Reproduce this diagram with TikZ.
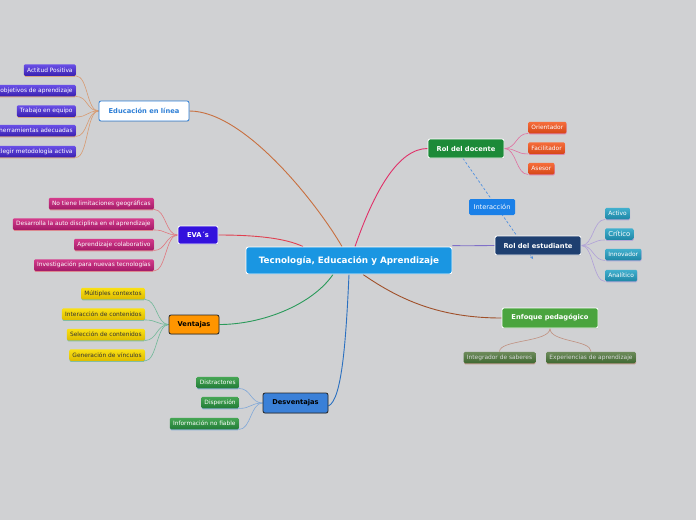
\documentclass[tikz,border=0pt]{standalone}
\usepackage{fontspec}
\setmainfont{DejaVu Sans}
\usetikzlibrary{shadows,arrows.meta}
\pgfdeclarelayer{bottom}
\pgfdeclarelayer{background}
\pgfsetlayers{bottom,background,main}
\definecolor{bg}{RGB}{208,209,211}
\definecolor{cMain}{RGB}{26,150,226}
\definecolor{cEduB}{RGB}{46,127,214}
\definecolor{cPurT}{RGB}{106,80,232}
\definecolor{cPurB}{RGB}{58,32,176}
\definecolor{cEva}{RGB}{51,17,221}
\definecolor{cMagT}{RGB}{212,60,140}
\definecolor{cMagB}{RGB}{164,26,104}
\definecolor{cVen}{RGB}{255,149,0}
\definecolor{cYelT}{RGB}{250,224,20}
\definecolor{cYelB}{RGB}{222,188,0}
\definecolor{cDes}{RGB}{58,128,216}
\definecolor{cGrnT}{RGB}{70,166,84}
\definecolor{cGrnB}{RGB}{34,124,56}
\definecolor{cDoc}{RGB}{28,138,56}
\definecolor{cOrT}{RGB}{246,110,60}
\definecolor{cOrB}{RGB}{214,70,22}
\definecolor{cInt}{RGB}{26,128,232}
\definecolor{cEst}{RGB}{30,63,112}
\definecolor{cTeT}{RGB}{66,176,206}
\definecolor{cTeB}{RGB}{30,134,166}
\definecolor{cEnf}{RGB}{74,164,62}
\definecolor{cOlT}{RGB}{110,140,92}
\definecolor{cOlB}{RGB}{62,104,48}
\definecolor{lEdu}{RGB}{200,112,64}
\definecolor{lEduS}{RGB}{216,154,112}
\definecolor{lEva}{RGB}{224,64,80}
\definecolor{lEvaS}{RGB}{224,120,128}
\definecolor{lVen}{RGB}{42,154,90}
\definecolor{lVenS}{RGB}{112,184,152}
\definecolor{lDes}{RGB}{42,112,192}
\definecolor{lDesS}{RGB}{128,168,216}
\definecolor{lDoc}{RGB}{224,48,104}
\definecolor{lDocS}{RGB}{224,112,160}
\definecolor{lEst}{RGB}{128,112,200}
\definecolor{lEstS}{RGB}{176,160,216}
\definecolor{lEnf}{RGB}{160,80,42}
\definecolor{lEnfS}{RGB}{192,144,128}
\definecolor{lDash}{RGB}{80,144,224}
\begin{document}
\begin{tikzpicture}[x=1pt,y=-1pt,
  leaf/.style={rounded corners=1.3pt, inner xsep=3.2pt, inner ysep=0pt,
    minimum height=11.5pt, font=\fontsize{5.9}{7}\selectfont, text=white,
    drop shadow={shadow xshift=0.3pt, shadow yshift=-1.1pt, fill=#1, opacity=0.8}},
  topic/.style={rounded corners=2pt, inner xsep=6pt, inner ysep=0pt,
    minimum height=19pt, font=\bfseries\fontsize{6.7}{8}\selectfont,
    line width=0.8pt,
    drop shadow={shadow xshift=0.4pt, shadow yshift=-0.8pt, opacity=0.25}},
  con/.style={line width=0.9pt},
  sub/.style={line width=0.6pt}
]
\begin{pgfonlayer}{bottom}
\fill[bg] (0,0) rectangle (696,520);
\end{pgfonlayer}
\useasboundingbox (0,0) rectangle (696,520);

% central
\node[rounded corners=2.5pt, fill=cMain, draw=white, line width=0.9pt,
  minimum width=206pt, minimum height=27pt, text=white,
  font=\bfseries\fontsize{8.8}{10}\selectfont,
  drop shadow={shadow xshift=0.4pt, shadow yshift=-0.8pt, opacity=0.25}]
  (main) at (349,260.5) {Tecnología, Educación y Aprendizaje};

% Educación en línea
\node[topic, fill=white, draw=cEduB, text=cEduB, minimum width=90pt, minimum height=20pt] (edu) at (144,111) {Educación en línea};
\node[leaf=lEduS, top color=cPurT, bottom color=cPurB, anchor=east] (e1) at (76,70) {Actitud Positiva};
\node[leaf=lEduS, top color=cPurT, bottom color=cPurB, anchor=east] (e2) at (76,90.5) {Establecer objetivos de aprendizaje};
\node[leaf=lEduS, top color=cPurT, bottom color=cPurB, anchor=east] (e3) at (76,111) {Trabajo en equipo};
\node[leaf=lEduS, top color=cPurT, bottom color=cPurB, anchor=east] (e4) at (76,130.5) {Elegir herramientas adecuadas};
\node[leaf=lEduS, top color=cPurT, bottom color=cPurB, anchor=east] (e5) at (76,151.5) {Elegir metodología activa};

% EVA
\node[topic, fill=cEva, draw=white, text=white, minimum width=40pt, minimum height=18pt] (eva) at (198,235) {EVA´s};
\node[leaf=lEvaS, top color=cMagT, bottom color=cMagB, anchor=east] (v1) at (154,203.5) {No tiene limitaciones geográficas};
\node[leaf=lEvaS, top color=cMagT, bottom color=cMagB, anchor=east] (v2) at (154,224) {Desarrolla la auto disciplina en el aprendizaje};
\node[leaf=lEvaS, top color=cMagT, bottom color=cMagB, anchor=east] (v3) at (154,244.5) {Aprendizaje colaborativo};
\node[leaf=lEvaS, top color=cMagT, bottom color=cMagB, anchor=east] (v4) at (154,265) {Investigación para nuevas tecnologías};

% Ventajas
\node[topic, fill=cVen, draw=black!85, text=black, minimum width=50pt] (ven) at (194,324.5) {Ventajas};
\node[leaf=lVenS, top color=cYelT, bottom color=cYelB, text=black!80, anchor=east] (w1) at (145,293.5) {Múltiples contextos};
\node[leaf=lVenS, top color=cYelT, bottom color=cYelB, text=black!80, anchor=east] (w2) at (145,314) {Interacción de contenidos};
\node[leaf=lVenS, top color=cYelT, bottom color=cYelB, text=black!80, anchor=east] (w3) at (145,334.5) {Selección de contenidos};
\node[leaf=lVenS, top color=cYelT, bottom color=cYelB, text=black!80, anchor=east] (w4) at (145,355) {Generación de vínculos};

% Desventajas
\node[topic, fill=cDes, draw=black!85, text=black, minimum width=65pt, minimum height=20pt] (des) at (295.5,403) {Desventajas};
\node[leaf=lDesS, top color=cGrnT, bottom color=cGrnB, anchor=east] (d1) at (239,382.5) {Distractores};
\node[leaf=lDesS, top color=cGrnT, bottom color=cGrnB, anchor=east] (d2) at (239,402.5) {Dispersión};
\node[leaf=lDesS, top color=cGrnT, bottom color=cGrnB, anchor=east] (d3) at (239,423.5) {Información no fiable};

% Rol del docente
\node[topic, fill=cDoc, draw=white, text=white, minimum width=76pt] (doc) at (466,148.5) {Rol del docente};
\node[leaf=lDocS, top color=cOrT, bottom color=cOrB, anchor=west] (o1) at (528,127.5) {Orientador};
\node[leaf=lDocS, top color=cOrT, bottom color=cOrB, anchor=west] (o2) at (528,148) {Facilitador};
\node[leaf=lDocS, top color=cOrT, bottom color=cOrB, anchor=west] (o3) at (528,168.5) {Asesor};

% Interacción
\node[rounded corners=1.5pt, fill=cInt, text=white, minimum width=46pt, minimum height=16pt,
  inner sep=0pt, font=\fontsize{6.6}{8}\selectfont] (int) at (492,207) {Interacción};

% Rol del estudiante
\node[topic, fill=cEst, draw=white, text=white, minimum width=86pt] (est) at (538,245.5) {Rol del estudiante};
\node[leaf=lEstS, top color=cTeT, bottom color=cTeB, anchor=west] (s1) at (605,213.5) {Activo};
\node[leaf=lEstS, top color=cTeT, bottom color=cTeB, anchor=west, font=\fontsize{6.8}{8}\selectfont] (s2) at (605,234) {Crítico};
\node[leaf=lEstS, top color=cTeT, bottom color=cTeB, anchor=west] (s3) at (605,254.5) {Innovador};
\node[leaf=lEstS, top color=cTeT, bottom color=cTeB, anchor=west] (s4) at (605,275.5) {Analítico};

% Enfoque pedagógico
\node[topic, fill=cEnf, draw=white, text=white, minimum width=96pt, minimum height=20pt] (enf) at (550,318) {Enfoque pedagógico};
\node[leaf=lEnfS, top color=cOlT, bottom color=cOlB, text=white!85!black] (p1) at (499.5,357.5) {Integrador de saberes};
\node[leaf=lEnfS, top color=cOlT, bottom color=cOlB, text=white!85!black] (p2) at (591,357.5) {Experiencias de aprendizaje};

\coordinate (dashend) at (533,259);

\begin{pgfonlayer}{background}
% main connectors
\draw[con, lEdu] ([xshift=-7pt]main.north) .. controls (318,205) and (245,111) .. (edu.east);
\draw[con, lDoc] ([xshift=6pt]main.north) .. controls (374,192) and (398,148.5) .. (doc.west);
\draw[con, lEva] (eva.east) .. controls (255,235) and (285,238) .. ([xshift=-46pt]main.north);
\draw[con, lEst] ([yshift=1pt]main.north east) .. controls (470,246) and (480,245.5) .. (est.west);
\draw[con, lVen] ([xshift=-16pt]main.south) .. controls (312,305) and (262,324.5) .. (ven.east);
\draw[con, lDes] (main.south) .. controls (346,340) and (342,400) .. ([yshift=-3pt]des.east);
\draw[con, lEnf] ([xshift=14pt]main.south) .. controls (400,300) and (440,318) .. (enf.west);
% dashed relation
\draw[lDash, line width=0.7pt, dash pattern=on 2.5pt off 2pt, -{Stealth[length=3pt,width=3pt]}]
  ([xshift=-3pt]doc.south) -- (dashend);
% sub connectors
\foreach \c in {e1,e2,e3,e4,e5}
  \draw[sub, lEduS] (edu.west) .. controls +(-12,0) and +(12,0) .. (\c.south east);
\foreach \c in {v1,v2,v3,v4}
  \draw[sub, lEvaS] (eva.west) .. controls +(-12,0) and +(12,0) .. (\c.south east);
\foreach \c in {w1,w2,w3,w4}
  \draw[sub, lVenS] (ven.west) .. controls +(-12,0) and +(12,0) .. (\c.south east);
\foreach \c in {d1,d2,d3}
  \draw[sub, lDesS] (des.west) .. controls +(-12,0) and +(12,0) .. (\c.south east);
\foreach \c in {o1,o2,o3}
  \draw[sub, lDocS] (doc.east) .. controls +(12,0) and +(-12,0) .. (\c.south west);
\foreach \c in {s1,s2,s3,s4}
  \draw[sub, lEstS] (est.east) .. controls +(12,0) and +(-12,0) .. (\c.south west);
\foreach \c in {p1,p2}
  \draw[sub, lEnfS] (enf.south) .. controls +(0,14) and +(0,-12) .. (\c.north);
\end{pgfonlayer}
\end{tikzpicture}
\end{document}
